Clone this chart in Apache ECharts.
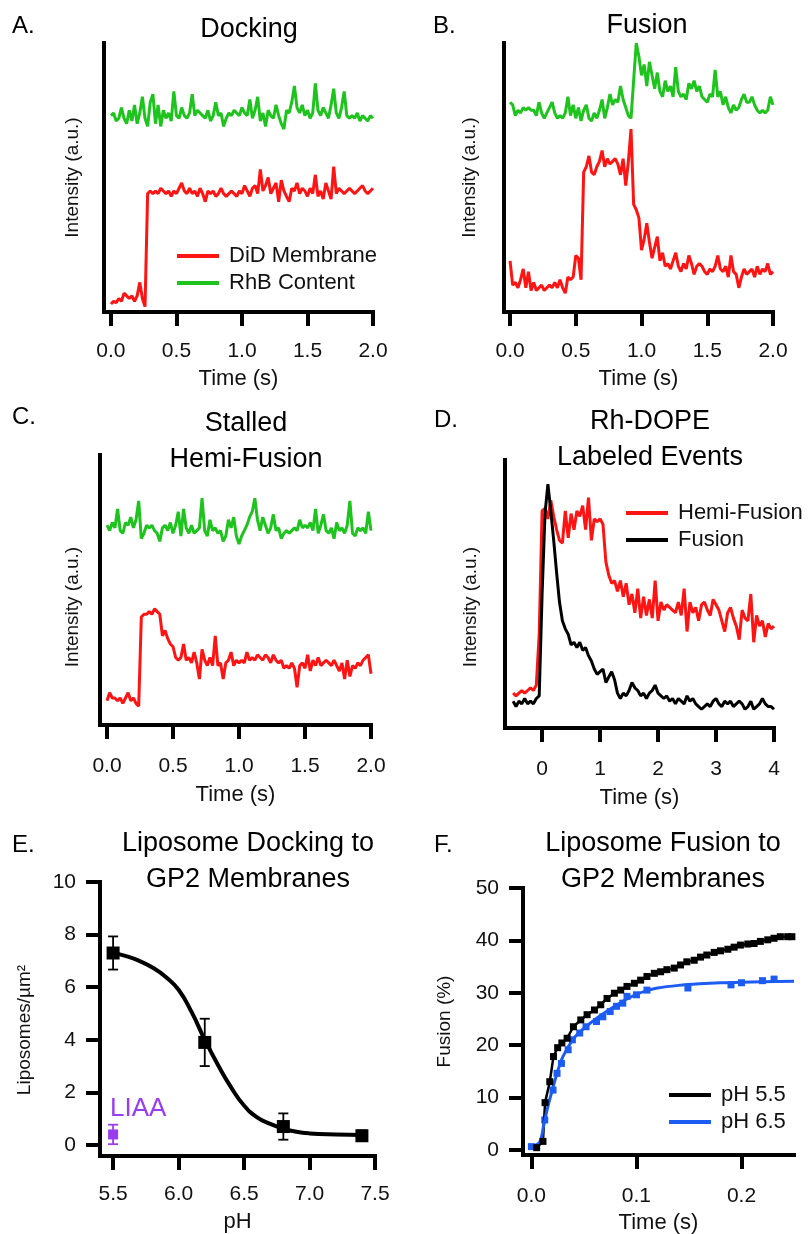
<!doctype html>
<html lang="en">
<head>
<meta charset="utf-8">
<title>GP2 liposome docking and fusion</title>
<script src="https://cdn.jsdelivr.net/npm/echarts@6.0.0/dist/echarts.min.js"></script>
<style>
  html, body { margin: 0; padding: 0; background: #ffffff; }
  #chart { width: 812px; height: 1234px; }
</style>
</head>
<body>
<div id="chart"></div>
<script>
// ---- data ----
// single-event traces: A-C sampled every 20 ms from 0 s, D every 50 ms from -0.5 s
const traceStart = 0;
const traceStep = 0.02;
const dopeStart = -0.5;
const dopeStep = 0.05;

const dockingDiD = [3,4,3.5,5,4,7,6,5,6,4,6,11,5,2,44,45,44,45,44,46,45,44,45,43,45,44,46,48,45,44,
  46,44,45,43,46,44,41,45,44,45,43,44,46,44,43,44,45,44,43,45,44,47,45,43,46,47,44,53,45,47,
  50,44,46,48,41,49,45,43,41,46,45,48,44,46,45,43,46,44,51,43,45,42,48,45,42,54,44,46,45,44,
  45,46,45,44,45,46,47,45,44,45,46];
const dockingRhB = [73,74,71,72,76,72,70,75,71,77,70,74,80,72,69,78,81,70,77,69,75,72,74,71,82,73,72,76,73,72,
  74,81,73,75,74,73,72,75,71,73,78,73,74,69,72,74,73,75,74,73,76,74,73,79,72,75,80,71,74,69,
  75,73,72,77,73,70,68,75,74,78,84,76,74,77,73,75,72,74,85,75,73,76,74,72,77,83,74,72,76,82,
  73,72,73,72,74,71,73,72,71,73,72];

const fusionDiD = [19,10,11,9,12,16,9,15,8,11,8,9,10,8,9,10,9,11,9,12,9,7,13,12,13,21,20,12,52,54,
  58,52,51,54,56,60,54,57,55,56,57,55,51,57,47,56,68,40,38,35,23,27,33,26,20,24,28,19,22,17,
  18,16,19,22,17,15,18,16,21,18,14,17,18,17,15,14,16,15,17,21,16,15,17,13,21,15,14,9,13,16,
  14,15,16,13,17,14,16,15,18,14,15];
const fusionRhB = [78,77,73,75,74,76,75,76,75,75,73,78,74,72,74,76,78,74,72,73,72,74,80,73,77,72,76,71,75,77,
  72,71,74,72,75,79,72,76,81,77,79,78,84,79,76,73,72,86,100,95,88,92,84,93,88,83,89,82,80,86,
  82,84,80,91,82,80,81,79,85,83,86,82,84,80,79,78,81,80,90,80,82,77,80,76,74,77,75,76,79,81,
  78,78,80,77,75,74,75,74,75,80,77];

const hemiDiD = [9,12,10,10,9,10,8,10,12,9,10,8,7,40,41,41,42,41,43,42,41,33,35,32,30,29,25,24,25,30,
  24,25,23,27,23,17,28,24,22,25,22,33,22,23,17,23,24,27,22,24,23,24,23,27,24,25,24,26,25,24,
  26,25,23,26,24,23,24,21,22,21,23,21,14,22,23,21,26,20,24,22,25,22,23,24,23,22,24,22,20,23,
  17,24,18,22,21,23,22,24,25,26,19];
const hemiRhB = [74,72,75,73,80,72,71,75,74,77,73,76,83,69,71,74,73,74,72,71,68,73,74,72,75,71,74,79,70,80,
  73,71,74,71,72,73,84,72,70,76,72,73,71,72,68,70,76,73,77,70,67,70,72,74,77,79,84,76,72,77,
  74,71,73,78,72,73,69,71,72,71,72,73,72,76,73,74,73,75,72,80,71,74,78,72,71,73,69,75,72,73,
  71,74,83,71,70,73,72,73,71,79,72];

const dopeHemi = [13,12,13,14,13,14,15,14,16,35,81,82,78,85,79,74,70,69,81,71,80,74,81,79,83,74,86,70,78,77,
  78,76,62,57,54,55,51,55,49,54,46,50,43,52,41,49,42,48,41,55,40,47,44,46,45,44,43,47,42,52,
  36,47,43,45,40,46,47,44,42,48,46,44,40,36,43,45,41,38,33,44,41,40,50,32,42,38,40,34,39,37,
  38];
const dopeFusion = [10,8,10,9,11,9,10,9,11,12,50,80,91,81,70,58,47,40,37,35,31,32,30,32,29,30,27,25,22,20,
  21,22,17,19,21,18,13,11,13,12,14,17,15,14,12,13,11,13,14,16,13,12,11,12,10,11,9,11,10,9,
  12,10,11,9,8,7,8,9,8,10,11,9,8,10,9,10,8,9,10,9,7,8,10,7,8,9,11,9,8,8,
  7];

const timeTicks = [0, 0.5, 1, 1.5, 2];
const dopeTicks = [0, 1, 2, 3, 4];

// E: docking density vs pH
const phTicks = [5.5, 6, 6.5, 7, 7.5];
const densityTicks = [0, 2, 4, 6, 8, 10];
const phPoints = [5.5, 6.2, 6.8, 7.4];
const densityMean = [7.3, 3.9, 0.7, 0.35];
const densityErr = [0.63, 0.9, 0.5, 0.2];
const liaaPH = [5.5];
const liaaMean = [0.4];
const liaaErr = [0.37];
const fitPH = [5.5, 5.6, 5.7, 5.8, 5.9, 6.0, 6.1, 6.2, 6.3, 6.4, 6.5, 6.6, 6.7, 6.8, 6.9, 7.0, 7.2, 7.4];
const fitDensity = [7.3, 7.18, 7.0, 6.75, 6.4, 5.9, 5.05, 4.0, 3.05, 2.2, 1.5, 1.05, 0.8, 0.62, 0.5, 0.44, 0.4, 0.38];

// F: fusion kinetics
const kineticTicksX = [0, 0.1, 0.2];
const kineticTicksY = [0, 10, 20, 30, 40, 50];
const kinTime55 = [0.005, 0.011, 0.013, 0.0175, 0.021, 0.025, 0.029, 0.034, 0.040, 0.047, 0.053, 0.060, 0.066, 0.072,
  0.079, 0.085, 0.091, 0.098, 0.104, 0.110, 0.117, 0.123, 0.129, 0.136, 0.142, 0.148, 0.155, 0.161, 0.167, 0.174,
  0.180, 0.187, 0.193, 0.199, 0.206, 0.212, 0.218, 0.225, 0.231, 0.237, 0.244, 0.248];
const kin55 = [0.4, 1.6, 9, 13, 17.8, 19.5, 20.4, 21.3, 23.5, 24.8, 25.8, 26.7, 27.7, 28.9,
  29.9, 30.5, 31.2, 31.8, 32.4, 33.1, 33.7, 34, 34.4, 34.7, 35.3, 35.9, 36.2, 36.8, 37.2, 37.7,
  38, 38.3, 38.7, 39.1, 39.3, 39.4, 39.8, 40.1, 40.4, 40.7, 40.7, 40.7];
const kinTime65 = [0.0, 0.0127, 0.0206, 0.0244, 0.0286, 0.035, 0.039, 0.046, 0.052, 0.062, 0.068, 0.075, 0.081,
  0.087, 0.091, 0.1, 0.11, 0.149, 0.19, 0.2, 0.22, 0.231];
const kin65 = [0.6, 5.7, 11.4, 14.6, 16.5, 19.1, 21, 22.3, 23.5, 24.5, 25.4, 26.4, 27.4,
  28, 29.3, 29.6, 30.5, 30.9, 31.5, 31.9, 32.3, 32.6];
const fitTime65 = [0, 0.008, 0.012, 0.016, 0.02, 0.025, 0.03, 0.04, 0.05, 0.06, 0.07, 0.08, 0.09, 0.1, 0.11,
  0.12, 0.14, 0.16, 0.18, 0.2, 0.22, 0.25];
const fit65 = [0.5, 1.5, 5, 8.5, 11.5, 15, 17.8, 21.2, 23.2, 24.8, 26.2, 27.5, 28.7, 29.7, 30.4,
  30.9, 31.4, 31.7, 31.9, 32.0, 32.1, 32.2];

// ---- styling ----
const FONT = '"Liberation Sans", Arial, sans-serif';
const INK = '#111111';
const RED = '#ff1414';
const GREEN = '#1ec31e';
const BLUE = '#1d5cf2';
const PURPLE = '#9a3cf0';

const sampled = (vals, t0, dt) => vals.map((v, i) => [+(t0 + i * dt).toFixed(3), v]);
const zip = (xs, ys) => xs.map((x, i) => [x, ys[i]]);

const axisLineStyle = { color: '#000', width: 4, cap: 'square' };

function bottomAxis(gridIndex, min, max, ticks, digits, name, nameGap, margin) {
  return {
    type: 'value', gridIndex, min, max,
    name, nameLocation: 'middle', nameGap,
    nameTextStyle: { fontFamily: FONT, fontSize: 22, color: INK },
    axisLine: { show: true, onZero: false, lineStyle: axisLineStyle },
    axisTick: { show: true, customValues: ticks, length: 14, lineStyle: { color: '#000', width: 4 } },
    axisLabel: {
      show: true, customValues: ticks, margin, fontFamily: FONT, fontSize: 21, color: INK,
      formatter: v => v.toFixed(digits)
    },
    splitLine: { show: false }
  };
}

function intensityAxis(gridIndex, nameGap, shift) {
  return {
    type: 'value', gridIndex, min: 0, max: 100,
    name: 'Intensity (a.u.)', nameLocation: 'middle', nameRotate: 90, nameGap,
    nameTextStyle: { fontFamily: FONT, fontSize: 19, color: INK, padding: [0, shift, 0, 0] },
    axisLine: { show: true, onZero: false, lineStyle: axisLineStyle },
    axisTick: { show: false },
    axisLabel: { show: false },
    splitLine: { show: false }
  };
}

function leftAxis(gridIndex, min, max, ticks, name, nameGap, shift) {
  return {
    type: 'value', gridIndex, min, max,
    name, nameLocation: 'middle', nameRotate: 90, nameGap,
    nameTextStyle: { fontFamily: FONT, fontSize: 19, color: INK, padding: [0, shift, 0, 0] },
    axisLine: { show: true, onZero: false, lineStyle: axisLineStyle },
    axisTick: { show: true, customValues: ticks, length: 14, lineStyle: { color: '#000', width: 4 } },
    axisLabel: { show: true, customValues: ticks, margin: 24, fontFamily: FONT, fontSize: 21, color: INK },
    splitLine: { show: false }
  };
}

function trace(name, idx, data, color) {
  return {
    type: 'line', name, xAxisIndex: idx, yAxisIndex: idx, data,
    symbol: 'none', showSymbol: false, color,
    lineStyle: { color, width: 3 }, silent: true
  };
}

function errorBars(idx, xs, means, errs, color) {
  return {
    type: 'custom', xAxisIndex: idx, yAxisIndex: idx, silent: true, z: 3,
    encode: { x: 0, y: [1, 2] },
    data: xs.map((x, i) => [x, means[i] - errs[i], means[i] + errs[i]]),
    renderItem: (params, api) => {
      const lo = api.coord([api.value(0), api.value(1)]);
      const hi = api.coord([api.value(0), api.value(2)]);
      const half = 5;
      const style = { stroke: color, lineWidth: 1.8 };
      return {
        type: 'group', children: [
          { type: 'line', shape: { x1: lo[0], y1: lo[1], x2: hi[0], y2: hi[1] }, style },
          { type: 'line', shape: { x1: lo[0] - half, y1: lo[1], x2: lo[0] + half, y2: lo[1] }, style },
          { type: 'line', shape: { x1: hi[0] - half, y1: hi[1], x2: hi[0] + half, y2: hi[1] }, style }
        ]
      };
    }
  };
}

function legendBox(names, left, top) {
  return {
    data: names, left, top, orient: 'vertical', padding: 0,
    icon: 'rect', itemWidth: 42, itemHeight: 4, itemGap: 5, selectedMode: false,
    textStyle: { fontFamily: FONT, fontSize: 22, color: INK, padding: [0, 0, 0, 5] }
  };
}

function label(text, x, y, size, align, color) {
  return {
    type: 'text', x, y, silent: true,
    style: {
      text, fill: color || '#000', fontFamily: FONT, fontSize: size, lineHeight: 36,
      textAlign: align, textVerticalAlign: 'middle', align, verticalAlign: 'middle'
    }
  };
}

const chart = echarts.init(document.getElementById('chart'), null, { renderer: 'canvas' });

chart.setOption({
  animation: false,
  backgroundColor: '#ffffff',
  grid: [
    { left: 104, top: 43, width: 269, height: 269, outerBoundsMode: 'none', containLabel: false },
    { left: 504, top: 43, width: 269, height: 269, outerBoundsMode: 'none', containLabel: false },
    { left: 100, top: 455, width: 271, height: 270, outerBoundsMode: 'none', containLabel: false },
    { left: 505, top: 460, width: 269, height: 268, outerBoundsMode: 'none', containLabel: false },
    { left: 100, top: 882, width: 275, height: 274, outerBoundsMode: 'none', containLabel: false },
    { left: 523, top: 888, width: 271, height: 267, outerBoundsMode: 'none', containLabel: false }
  ],
  xAxis: [
    bottomAxis(0, -0.053, 2, timeTicks, 1, 'Time (s)', 56, 29),
    bottomAxis(1, -0.046, 2, timeTicks, 1, 'Time (s)', 56, 29),
    bottomAxis(2, -0.053, 2, timeTicks, 1, 'Time (s)', 59, 31),
    bottomAxis(3, -0.64, 4, dopeTicks, 0, 'Time (s)', 59, 31),
    bottomAxis(4, 5.4, 7.5, phTicks, 1, 'pH', 55, 28),
    bottomAxis(5, -0.008, 0.25, kineticTicksX, 1, 'Time (s)', 57, 31)
  ],
  yAxis: [
    intensityAxis(0, 22, 0),
    intensityAxis(1, 25, 0),
    intensityAxis(2, 18, 34),
    intensityAxis(3, 25, 26),
    leftAxis(4, -0.42, 10, densityTicks, 'Liposomes/µm²', 66, 22),
    leftAxis(5, -1, 50, kineticTicksY, 'Fusion (%)', 69, 0)
  ],
  legend: [
    legendBox(['DiD Membrane', 'RhB Content'], 177, 245),
    legendBox(['Hemi-Fusion', 'Fusion'], 626, 502),
    legendBox(['pH 5.5', 'pH 6.5'], 669, 1084)
  ],
  graphic: [
    label('A.', 12, 26, 24, 'left'),
    label('B.', 433, 26, 24, 'left'),
    label('C.', 12, 417, 24, 'left'),
    label('D.', 434, 420, 24, 'left'),
    label('E.', 12, 845, 24, 'left'),
    label('F.', 434, 845, 24, 'left'),
    label('Docking', 249, 30, 27, 'center'),
    label('Fusion', 647, 26, 27, 'center'),
    label('Stalled\nHemi-Fusion', 246, 442, 27, 'center'),
    label('Rh-DOPE\nLabeled Events', 650, 440, 27, 'center'),
    label('Liposome Docking to\nGP2 Membranes', 248, 862, 27, 'center'),
    label('Liposome Fusion to\nGP2 Membranes', 663, 862, 27, 'center'),
    label('LIAA', 110, 1109, 26, 'left', PURPLE)
  ],
  series: [
    trace('RhB Content', 0, sampled(dockingRhB, traceStart, traceStep), GREEN),
    trace('DiD Membrane', 0, sampled(dockingDiD, traceStart, traceStep), RED),
    trace('Fusion RhB', 1, sampled(fusionRhB, traceStart, traceStep), GREEN),
    trace('Fusion DiD', 1, sampled(fusionDiD, traceStart, traceStep), RED),
    trace('Stalled RhB', 2, sampled(hemiRhB, traceStart, traceStep), GREEN),
    trace('Stalled DiD', 2, sampled(hemiDiD, traceStart, traceStep), RED),
    trace('Hemi-Fusion', 3, sampled(dopeHemi, dopeStart, dopeStep), RED),
    trace('Fusion', 3, sampled(dopeFusion, dopeStart, dopeStep), '#000000'),

    errorBars(4, phPoints, densityMean, densityErr, '#000000'),
    errorBars(4, liaaPH, liaaMean, liaaErr, PURPLE),
    {
      type: 'line', name: 'Docking fit', xAxisIndex: 4, yAxisIndex: 4,
      data: zip(fitPH, fitDensity), smooth: 0.5, symbol: 'none', color: '#000',
      lineStyle: { color: '#000', width: 4 }, silent: true, z: 2
    },
    {
      type: 'scatter', name: 'Docking', xAxisIndex: 4, yAxisIndex: 4,
      data: zip(phPoints, densityMean), symbol: 'rect', symbolSize: 13,
      itemStyle: { color: '#000', opacity: 1 }, silent: true, z: 4
    },
    {
      type: 'scatter', name: 'LIAA', xAxisIndex: 4, yAxisIndex: 4,
      data: zip(liaaPH, liaaMean), symbol: 'rect', symbolSize: 10,
      itemStyle: { color: PURPLE, opacity: 1 }, silent: true, z: 4
    },

    {
      type: 'line', name: 'pH 5.5', xAxisIndex: 5, yAxisIndex: 5,
      data: zip(kinTime55, kin55), symbol: 'rect', symbolSize: 7, showSymbol: true,
      color: '#000', itemStyle: { color: '#000', opacity: 1 }, lineStyle: { color: '#000', width: 2.5 }, silent: true
    },
    {
      type: 'line', name: 'pH 6.5', xAxisIndex: 5, yAxisIndex: 5,
      data: zip(fitTime65, fit65), smooth: 0.3, symbol: 'none',
      color: BLUE, lineStyle: { color: BLUE, width: 3 }, silent: true
    },
    {
      type: 'scatter', name: 'pH 6.5 data', xAxisIndex: 5, yAxisIndex: 5,
      data: zip(kinTime65, kin65), symbol: 'rect', symbolSize: 7,
      itemStyle: { color: BLUE, opacity: 1 }, silent: true
    }
  ]
});

window.addEventListener('resize', () => chart.resize());
</script>
</body>
</html>
